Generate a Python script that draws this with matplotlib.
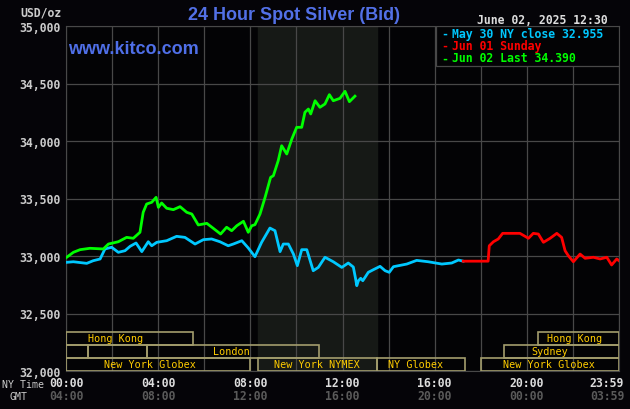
import matplotlib
matplotlib.use("Agg")
import matplotlib.pyplot as plt
from matplotlib.patches import Rectangle

# hours (NY time) and bid prices
may30_hours = [0.03, 0.32, 0.90, 1.18, 1.48, 1.69, 1.98, 2.27, 2.56, 2.78,
               3.04, 3.29, 3.57, 3.72, 3.94, 4.37, 4.80, 5.16, 5.60, 5.96,
               6.32, 6.68, 7.04, 7.26, 7.63, 7.91, 8.20, 8.49, 8.85, 9.07,
               9.29, 9.43, 9.65, 9.87, 10.04, 10.23, 10.45, 10.73, 10.95, 11.24,
               11.60, 11.97, 12.25, 12.47, 12.57, 12.62, 12.69, 12.79, 12.88, 12.98,
               13.12, 13.34, 13.63, 13.85, 14.03, 14.21, 14.79, 15.22, 15.72, 16.31,
               16.74, 17.03, 17.24]
may30_price = [32945, 32950, 32936, 32959, 32974, 33061, 33076, 33032, 33046, 33084,
               33113, 33038, 33124, 33089, 33119, 33133, 33171, 33162, 33104, 33142,
               33148, 33124, 33089, 33104, 33133, 33070, 32994, 33119, 33243, 33220,
               33038, 33104, 33104, 33017, 32916, 33055, 33055, 32872, 32901, 32989,
               32950, 32901, 32939, 32904, 32800, 32742, 32785, 32806, 32785, 32815,
               32858, 32881, 32910, 32872, 32858, 32907, 32930, 32962, 32950, 32930,
               32939, 32965, 32955]

jun01_hours = [17.24, 18.32, 18.37, 18.55, 18.76, 18.95, 19.27, 19.70, 20.07, 20.28,
               20.50, 20.72, 21.01, 21.30, 21.51, 21.66, 21.80, 22.02, 22.31, 22.53,
               22.89, 23.18, 23.47, 23.68, 23.90, 24.0]
jun01_price = [32955, 32955, 33089, 33124, 33148, 33197, 33197, 33197, 33154, 33197,
               33191, 33119, 33154, 33197, 33162, 33046, 33003, 32950, 33017, 32980,
               32989, 32974, 32989, 32922, 32974, 32959]

jun02_hours = [0.03, 0.32, 0.61, 1.04, 1.62, 1.84, 2.27, 2.63, 2.92, 3.21,
               3.35, 3.50, 3.72, 3.91, 4.01, 4.15, 4.37, 4.66, 4.95, 5.24,
               5.46, 5.74, 6.11, 6.39, 6.71, 6.97, 7.19, 7.41, 7.70, 7.91,
               8.06, 8.20, 8.42, 8.64, 8.88, 9.00, 9.21, 9.36, 9.58, 9.80,
               10.01, 10.23, 10.37, 10.52, 10.62, 10.81, 11.02, 11.24, 11.43, 11.60,
               11.89, 12.11, 12.30, 12.54]
jun02_price = [32989, 33032, 33055, 33067, 33061, 33104, 33124, 33162, 33154, 33206,
               33380, 33452, 33467, 33510, 33423, 33461, 33415, 33403, 33429, 33380,
               33365, 33270, 33284, 33241, 33191, 33250, 33220, 33263, 33302, 33206,
               33263, 33272, 33365, 33510, 33684, 33698, 33829, 33959, 33887, 34017,
               34119, 34119, 34250, 34278, 34235, 34350, 34293, 34322, 34403, 34350,
               34371, 34432, 34342, 34390]

y_ticks = [32000, 32500, 33000, 33500, 34000, 34500, 35000]
ny_labels = ["00:00", "04:00", "08:00", "12:00", "16:00", "20:00", "23:59"]
gmt_labels = ["04:00", "08:00", "12:00", "16:00", "20:00", "00:00", "03:59"]
label_hours = [0, 4, 8, 12, 16, 20, 23.48]

# trading sessions: (row, start, end, label, label x)
sessions = [
    (2, 0.0, 5.5, "Hong Kong", 2.13),
    (2, 20.5, 24.0, "Hong Kong", 22.07),
    (1, 0.0, 0.97, "", 0),
    (1, 0.97, 3.5, "", 0),
    (1, 3.5, 10.97, "London", 7.16),
    (1, 19.0, 24.0, "Sydney", 20.99),
    (0, 0.0, 8.0, "New York Globex", 3.65),
    (0, 8.33, 13.5, "New York NYMEX", 10.9),
    (0, 13.5, 17.33, "NY Globex", 15.19),
    (0, 18.0, 24.0, "New York Globex", 20.96),
]

BG = "#050408"
GRID = "#484848"
MONO = "DejaVu Sans Mono"

fig = plt.figure(figsize=(6.3, 4.1), dpi=100, facecolor=BG)
ax = fig.add_axes([66 / 630, 38 / 410, 553 / 630, 345 / 410])
ax.set_facecolor("#030305")
ax.set_xlim(0, 24)
ax.set_ylim(32000, 35000)

ax.axvspan(8.33, 13.5, color="#161916", zorder=0)
for h in range(0, 25, 2):
    ax.axvline(h, color=GRID, lw=0.9, zorder=1)
for p in y_ticks:
    ax.axhline(p, color=GRID, lw=0.9, zorder=1)

ax.plot(may30_hours, may30_price, color="#00c8ff", lw=2, zorder=3)
ax.plot(jun01_hours, jun01_price, color="#ff0000", lw=2, zorder=3)
ax.plot(jun02_hours, jun02_price, color="#00ff00", lw=2, zorder=4)

for s in ax.spines.values():
    s.set_color(GRID)
ax.set_yticks(y_ticks)
ax.set_yticklabels(["{:,}".format(v) for v in y_ticks], family=MONO,
                   weight="bold", fontsize=8.3, color="#cccccc")
ax.tick_params(axis="y", length=0, pad=4)
ax.set_xticks([])

# session boxes along the bottom
row_h = 13 / 345
trans = ax.get_xaxis_transform()
for row, x0, x1, name, lx in sessions:
    ax.add_patch(Rectangle((x0, row * row_h), x1 - x0, row_h, transform=trans,
                           fill=False, edgecolor="#a39d6d", lw=1.2, zorder=5))
    if name:
        ax.text(lx, (row + 0.5) * row_h, name, transform=trans, ha="center",
                va="center", family=MONO, fontsize=7.3, color="#ffcc00", zorder=6)

# time labels
for h, ny, gmt in zip(label_hours, ny_labels, gmt_labels):
    ax.text(h, -11.5 / 345, ny, transform=trans, ha="center", va="center",
            family=MONO, weight="bold", fontsize=8.3, color="#dddddd")
    ax.text(h, -24.5 / 345, gmt, transform=trans, ha="center", va="center",
            family=MONO, weight="bold", fontsize=8.3, color="#5a5a5a")
fig.text(23 / 630, 1 - 385 / 410, "NY Time", ha="center", va="center",
         family=MONO, fontsize=7.1, color="#cccccc")
fig.text(19 / 630, 1 - 397 / 410, "GMT", ha="center", va="center",
         family=MONO, fontsize=7.1, color="#cccccc")

# legend box
ax.add_patch(Rectangle((370 / 553, 1 - 40 / 345), 183 / 553, 40 / 345,
                       transform=ax.transAxes, facecolor="#030305",
                       edgecolor=GRID, lw=0.9, zorder=7))
legend = [("May 30 NY close 32.955", "#00c8ff", 34.5),
          ("Jun 01 Sunday", "#ff0000", 46.5),
          ("Jun 02 Last 34.390", "#00ff00", 59)]
for txt, col, ypx in legend:
    fig.text(445 / 630, 1 - ypx / 410, "-", ha="center", va="center",
             family=MONO, weight="bold", fontsize=8.3, color=col, zorder=8)
    fig.text(451.5 / 630, 1 - ypx / 410, txt, ha="left", va="center",
             family=MONO, weight="bold", fontsize=8.3, color=col, zorder=8)

fig.text(41 / 630, 1 - 13.5 / 410, "USD/oz", ha="center", va="center",
         family=MONO, weight="bold", fontsize=8.3, color="#cccccc")
fig.text(294 / 630, 1 - 15 / 410, "24 Hour Spot Silver (Bid)", ha="center",
         va="center", family="Liberation Sans", weight="bold", fontsize=13,
         color="#5270e6")
fig.text(542 / 630, 1 - 20 / 410, "June 02, 2025 12:30", ha="center",
         va="center", family=MONO, weight="bold", fontsize=8.3, color="#dddddd")
fig.text(68 / 630, 1 - 49 / 410, "www.kitco.com", ha="left", va="center",
         family="Liberation Sans", weight="bold", fontsize=13, color="#4f6fe8",
         zorder=8)

fig.savefig("out.png", dpi=100, facecolor=BG)
